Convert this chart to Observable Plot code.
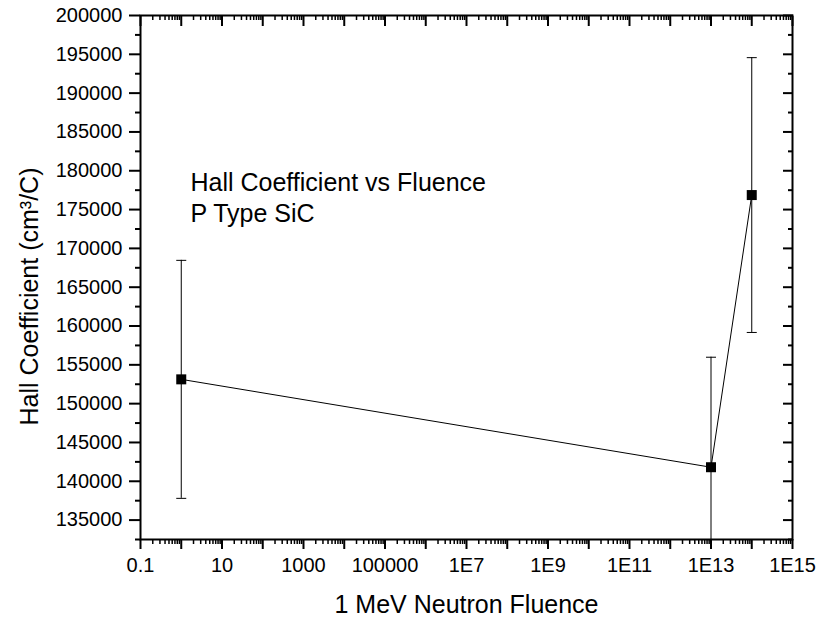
<!DOCTYPE html>
<html><head><meta charset="utf-8">
<script src="https://cdn.jsdelivr.net/npm/d3@7"></script>
<script src="https://cdn.jsdelivr.net/npm/@observablehq/plot@0.6"></script>
<style>html,body{margin:0;padding:0;background:#fff}#chart{position:absolute;left:0;top:0}</style>
</head><body><div id="chart"></div>
<script>
// ---- data ----
const fluence = [1, 1e13, 1e14];
const hallCoefficient = [153130, 141810, 176870];
const hallError = [15330, 14170, 17700];

// ---- tick labels ----
const xTickValues = [0.1, 10, 1000, 1e5, 1e7, 1e9, 1e11, 1e13, 1e15];
const xTickLabels = ["0.1", "10", "1000", "100000", "1E7", "1E9", "1E11", "1E13", "1E15"];
const yTickValues = d3.range(135000, 200001, 5000);

const titleLines = ["Hall Coefficient vs Fluence", "P Type SiC"];
const xLabel = "1 MeV Neutron Fluence";
const yLabel = "Hall Coefficient (cm\u00B3/C)";

// ---- axis helpers ----
const xMajor = d3.range(-1, 16).map(e => +("1e" + e));
const xMinor = [];
d3.range(-1, 15).forEach(e => { for (let k = 2; k <= 9; k++) xMinor.push(+(k + "e" + e)); });
const yMinor = d3.range(132500, 200000, 5000);
const labelOf = new Map(xTickValues.map((v, i) => [v, xTickLabels[i]]));

const data = fluence.map((f, i) => ({
  x: f, y: hallCoefficient[i], lo: hallCoefficient[i] - hallError[i], hi: hallCoefficient[i] + hallError[i]
}));

const cap = {draw(ctx) { ctx.moveTo(-5, 0); ctx.lineTo(5, 0); }};
const sq = {draw(ctx) { ctx.moveTo(-5, -5); ctx.lineTo(5, -5); ctx.lineTo(5, 5); ctx.lineTo(-5, 5); ctx.closePath(); }};
const blank = () => "";

const chart = Plot.plot({
  width: 816, height: 617,
  marginLeft: 140, marginRight: 24, marginTop: 15, marginBottom: 78,
  style: {fontFamily: "'Liberation Sans', Arial, sans-serif", fontSize: "20px", color: "#000", background: "#fff"},
  x: {type: "log", domain: [0.1, 1e15]},
  y: {domain: [132500, 200000]},
  marks: [
    // bottom axis
    Plot.axisX(xMinor, {anchor: "bottom", tickSize: 5, strokeWidth: 1.5, tickFormat: blank, label: null}),
    Plot.axisX(xMajor, {anchor: "bottom", tickSize: 10, strokeWidth: 2, tickPadding: 8, tickFormat: d => labelOf.get(d) ?? "", fontSize: 20, label: null}),
    // top axis (inward)
    Plot.axisX(xMinor, {anchor: "top", tickSize: -4, strokeWidth: 1.5, tickFormat: blank, label: null}),
    Plot.axisX(xMajor, {anchor: "top", tickSize: -10, strokeWidth: 2, tickFormat: blank, label: null}),
    // left axis
    Plot.axisY(yMinor, {anchor: "left", tickSize: 5, strokeWidth: 2, tickFormat: blank, label: null}),
    Plot.axisY(yTickValues, {anchor: "left", tickSize: 11, strokeWidth: 2, tickPadding: 7, tickFormat: d3.format("d"), fontSize: 20, label: null}),
    // right axis (inward)
    Plot.axisY(yMinor, {anchor: "right", tickSize: -5, strokeWidth: 2, tickFormat: blank, label: null}),
    Plot.axisY(yTickValues, {anchor: "right", tickSize: -10, strokeWidth: 2, tickFormat: blank, label: null}),
    Plot.frame({stroke: "#000", strokeWidth: 2}),
    // error bars
    Plot.ruleX(data, {x: "x", y1: "lo", y2: "hi", stroke: "#000", strokeWidth: 1, clip: true}),
    Plot.dot(data, {x: "x", y: "hi", symbol: cap, stroke: "#000", strokeWidth: 1, fill: "none", clip: true}),
    Plot.dot(data, {x: "x", y: "lo", symbol: cap, stroke: "#000", strokeWidth: 1, fill: "none", clip: true}),
    // line + squares
    Plot.line(data, {x: "x", y: "y", stroke: "#000", strokeWidth: 1}),
    Plot.dot(data, {x: "x", y: "y", symbol: sq, fill: "#000", stroke: "none"}),
    // annotation
    Plot.text([titleLines.join("\n")], {frameAnchor: "top-left", dx: 50, dy: 153, text: d => d, textAnchor: "start", lineAnchor: "top", lineHeight: 1.24, fontSize: 25, fill: "#000"}),
    // axis labels
    Plot.text([xLabel], {frameAnchor: "bottom", dy: 56, text: d => d, textAnchor: "middle", lineAnchor: "top", fontSize: 25, fill: "#000"}),
    Plot.text([yLabel], {frameAnchor: "left", dx: -111, dy: 19, rotate: -90, text: d => d, textAnchor: "middle", lineAnchor: "middle", fontSize: 25, fill: "#000"})
  ]
});
document.getElementById("chart").appendChild(chart);
</script>
</body></html>
